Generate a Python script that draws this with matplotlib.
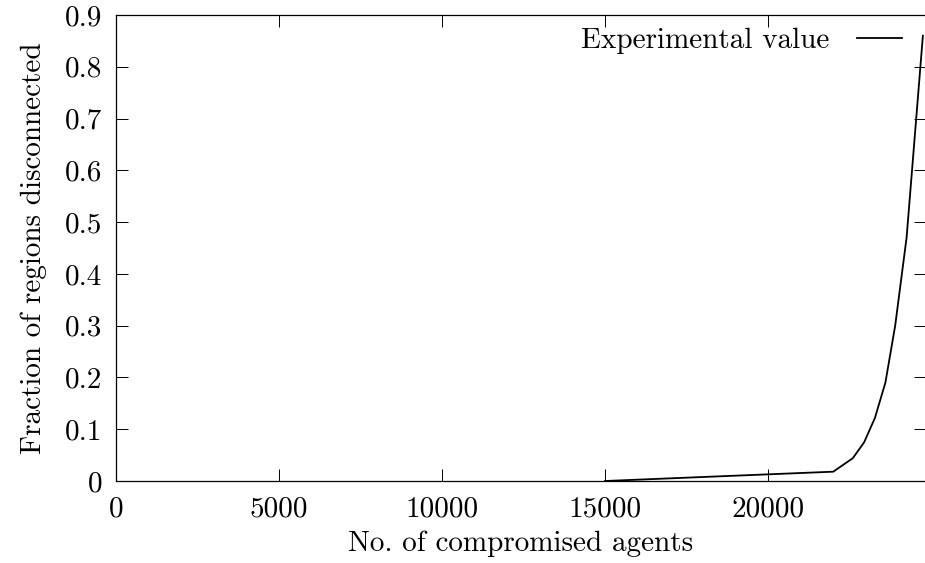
import matplotlib
matplotlib.use("Agg")
import matplotlib.pyplot as plt

# values
agents = [15000, 22000, 22600, 22950, 23280, 23600, 23900, 24250, 24750]
fraction = [0.0, 0.018, 0.044, 0.075, 0.122, 0.19, 0.30, 0.47, 0.86]
xticks = [0, 5000, 10000, 15000, 20000]
yticks = [0, 0.1, 0.2, 0.3, 0.4, 0.5, 0.6, 0.7, 0.8, 0.9]
ytick_labels = ["0", "0.1", "0.2", "0.3", "0.4", "0.5", "0.6", "0.7", "0.8", "0.9"]

plt.rcParams['font.family'] = ['cmr10', 'DejaVu Serif']
plt.rcParams['axes.formatter.use_mathtext'] = True
fs = 21

fig = plt.figure(figsize=(9.25, 5.63), dpi=100)
ax = fig.add_axes([116 / 925, 1 - 481 / 563, 809.5 / 925, 466 / 563])

ax.plot(agents, fraction, color='black', lw=1.3, label='Experimental value')

ax.set_xlim(0, 24830)
ax.set_ylim(0, 0.9)
ax.set_xticks(xticks)
ax.set_xticklabels([str(t) for t in xticks])
ax.set_yticks(yticks)
ax.set_yticklabels(ytick_labels)
ax.tick_params(direction='in', length=8.5, width=0.7, top=True, right=True,
               labelsize=fs)
ax.tick_params(axis='x', pad=11)
ax.tick_params(axis='y', pad=10)
for s in ax.spines.values():
    s.set_linewidth(0.9)

ax.set_xlabel('No. of compromised agents', fontsize=fs, labelpad=6)
ax.set_ylabel('Fraction of regions disconnected', fontsize=fs, labelpad=13)

ax.legend(loc='upper right', frameon=False, markerfirst=False,
          handlelength=1.55, handletextpad=0.95, borderaxespad=0.2, fontsize=fs,
          bbox_to_anchor=(0.993, 1.01))

fig.savefig('out.png', dpi=100)
